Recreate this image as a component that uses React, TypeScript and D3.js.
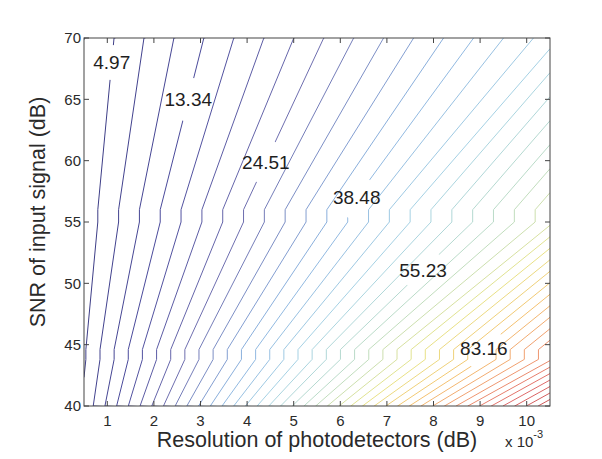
import React from "react";
import * as d3 from "d3";

// grid the contours are traced on
const xCols = [0.5, 10.5];
const yRows = [70, 56, 55, 44.6, 43.8, 40];
const zLeft = [2.17, 3.12, 3.12, 4.6, 4.6, 5.56];
const zRight = [45.6, 65.6, 65.6, 96.6, 96.6, 116.7];

const levels = [
  2.18, 4.97, 7.76, 10.55, 13.34, 16.13, 18.93, 21.72, 24.51, 27.3, 30.09, 32.89, 35.68, 38.48,
  41.27, 44.06, 46.85, 49.64, 52.44, 55.23, 58.02, 60.82, 63.61, 66.4, 69.19, 71.98, 74.78, 77.57,
  80.36, 83.16, 85.95, 88.74, 91.53, 94.32, 97.12, 99.91, 102.7, 105.49, 108.29, 111.08, 113.87,
];

const labelLevels = [4.97, 13.34, 24.51, 38.48, 55.23, 83.16];
const labelText = ["4.97", "13.34", "24.51", "38.48", "55.23", "83.16"];
const labelY = [68.0, 65.0, 59.9, 57.0, 51.1, 44.7];

const xTicks = [1, 2, 3, 4, 5, 6, 7, 8, 9, 10];
const yTicks = [40, 45, 50, 55, 60, 65, 70];

// washed-out jet, as the thin lines look in the original
const cmapStops = [0, 0.1, 0.2, 0.3, 0.4, 0.5, 0.6, 0.7, 0.8, 0.9, 1];
const cmapColors = [
  "#3a3a80", "#4a4a9c", "#7070b0", "#8cb4e0", "#a8d4e4", "#bcdcc4",
  "#e8e488", "#f4c470", "#f09870", "#e06a6a", "#c85454",
];

const W = 602;
const H = 459;
const left = 84;
const right = 550;
const top = 38;
const bottom = 406;
const font = "'Liberation Sans', Arial, Helvetica, sans-serif";

const x = d3.scaleLinear().domain([0.5, 10.5]).range([left, right]);
const y = d3.scaleLinear().domain([40, 70]).range([bottom, top]);

const colMap = d3.scaleLinear().domain([0.5, 1.5]).range(xCols);
const rowMap = d3.scaleLinear().domain(yRows.map((_, j) => j + 0.5)).range(yRows);

const zMin = d3.min(zLeft) as number;
const zMax = d3.max(zRight) as number;
const lineColor = d3
  .scaleLinear<string>()
  .domain(cmapStops.map((t) => zMin + t * (zMax - zMin)))
  .range(cmapColors)
  .clamp(true);

function rowCross(level: number, j: number) {
  return xCols[0] + ((xCols[1] - xCols[0]) * (level - zLeft[j])) / (zRight[j] - zLeft[j]);
}

function labelX(level: number, yy: number) {
  for (let j = 0; j < yRows.length - 1; j++) {
    const y0 = yRows[j];
    const y1 = yRows[j + 1];
    if (yy <= y0 && yy >= y1) {
      const t = y0 === y1 ? 0 : (y0 - yy) / (y0 - y1);
      const a = rowCross(level, j);
      const b = rowCross(level, j + 1);
      return a + (b - a) * t;
    }
  }
  return rowCross(level, 0);
}

const textWidth = (s: string, size: number) =>
  s.split("").reduce((w, c) => w + (c === "." ? 0.278 : 0.556), 0) * size;

export default function App() {
  const values: number[] = [];
  yRows.forEach((_, j) => {
    values.push(zLeft[j], zRight[j]);
  });

  const contours = d3.contours().size([xCols.length, yRows.length]).thresholds(levels)(values);

  const proj = d3.geoTransform({
    point(px: number, py: number) {
      (this as any).stream.point(x(colMap(px)), y(rowMap(py)));
    },
  });
  const path = d3.geoPath(proj);

  const labels = labelLevels.map((lv, i) => {
    const cx = x(labelX(lv, labelY[i]));
    const cy = y(labelY[i]);
    const w = textWidth(labelText[i], 19);
    return { lv, cx, cy, w, text: labelText[i] };
  });

  const tickLen = 5;

  return (
    <svg
      width={W}
      height={H}
      style={{ position: "absolute", left: 0, top: 0, background: "#fff" }}
      fontFamily={font}
    >
      <defs>
        <clipPath id="plot">
          <rect x={left} y={top} width={right - left} height={bottom - top} />
        </clipPath>
        {labels.map((l, i) => (
          <mask id={`gap${i}`} key={i} maskUnits="userSpaceOnUse" x={0} y={0} width={W} height={H}>
            <rect x={0} y={0} width={W} height={H} fill="#fff" />
            <circle cx={l.cx} cy={l.cy} r={l.w * 0.42 + 2} fill="#000" />
          </mask>
        ))}
      </defs>
      <rect x={0} y={0} width={W} height={H} fill="#fff" />

      <g clipPath="url(#plot)" fill="none" strokeWidth={1}>
        {contours.map((c, i) => {
          const li = labelLevels.findIndex((v) => Math.abs(v - c.value) < 0.02);
          return (
            <path
              key={i}
              d={path(c as any) || ""}
              stroke={lineColor(c.value)}
              mask={li >= 0 ? `url(#gap${li})` : undefined}
            />
          );
        })}
      </g>

      {labels.map((l, i) => (
        <text
          key={i}
          x={l.cx}
          y={l.cy}
          dy="0.36em"
          textAnchor="middle"
          fontSize={19}
          fill="#1e1e1e"
        >
          {l.text}
        </text>
      ))}

      {/* box and ticks */}
      <rect
        x={left}
        y={top}
        width={right - left}
        height={bottom - top}
        fill="none"
        stroke="#444"
        strokeWidth={1}
      />
      {xTicks.map((t) => (
        <g key={t} stroke="#444">
          <line x1={x(t)} x2={x(t)} y1={bottom} y2={bottom - tickLen} />
          <line x1={x(t)} x2={x(t)} y1={top} y2={top + tickLen} />
        </g>
      ))}
      {yTicks.map((t) => (
        <g key={t} stroke="#444">
          <line x1={left} x2={left + tickLen} y1={y(t)} y2={y(t)} />
          <line x1={right} x2={right - tickLen} y1={y(t)} y2={y(t)} />
        </g>
      ))}
      {xTicks.map((t) => (
        <text key={t} x={x(t)} y={426} textAnchor="middle" fontSize={15} fill="#2a2a2a">
          {t}
        </text>
      ))}
      {yTicks.map((t) => (
        <text key={t} x={81} y={y(t)} dy="0.36em" textAnchor="end" fontSize={15} fill="#2a2a2a">
          {t}
        </text>
      ))}

      <text x={(left + right) / 2} y={447} textAnchor="middle" fontSize={21.5} fill="#2a2a2a">
        Resolution of photodetectors (dB)
      </text>
      <text
        transform={`translate(45, ${(top + bottom) / 2 - 10}) rotate(-90)`}
        textAnchor="middle"
        fontSize={21.5}
        fill="#2a2a2a"
      >
        SNR of input signal (dB)
      </text>
      <text x={505} y={447} fontSize={15} fill="#2a2a2a">
        x 10
        <tspan dy={-9} fontSize={11}>
          -3
        </tspan>
      </text>
    </svg>
  );
}
